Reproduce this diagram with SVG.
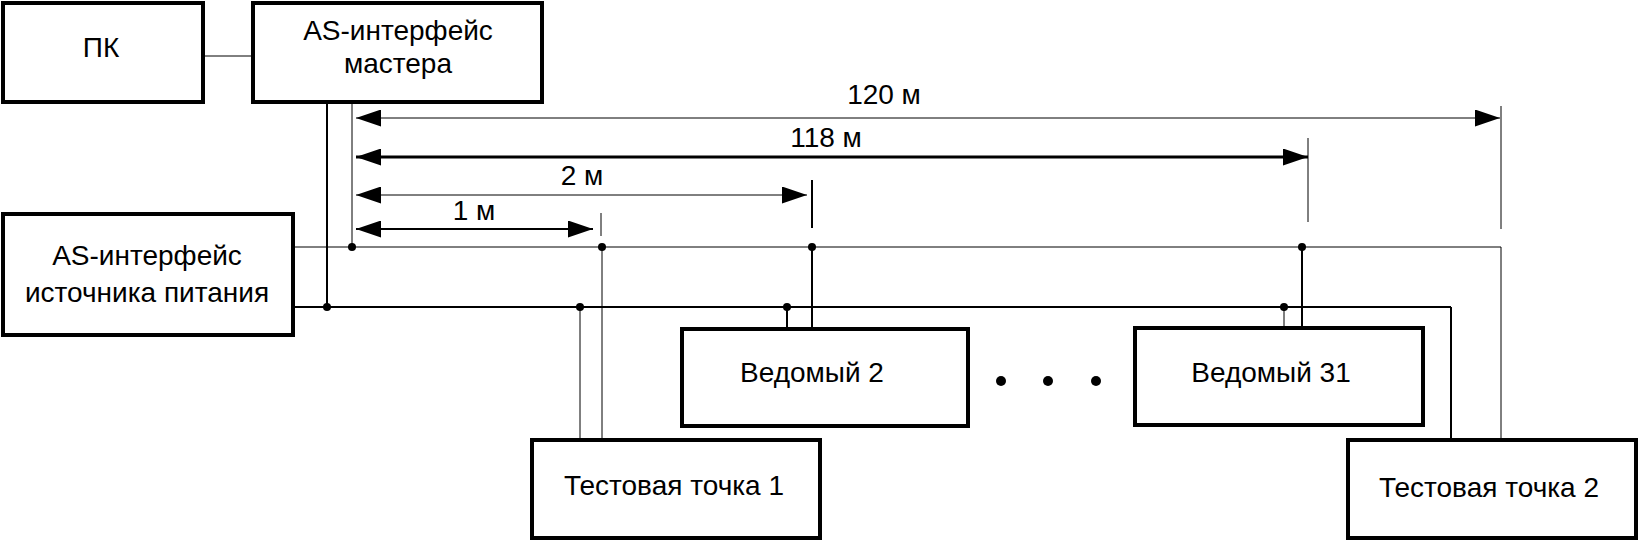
<svg xmlns="http://www.w3.org/2000/svg" width="1642" height="541" viewBox="0 0 1642 541">
<style>
.box{fill:#fff;stroke:#000;stroke-width:4}
.lbl{font-family:"Liberation Sans",Arial,sans-serif;font-size:28px;fill:#000;text-anchor:middle}
.w1{stroke:#000;stroke-width:1;fill:none}
.w2{stroke:#000;stroke-width:2;fill:none}
.w3{stroke:#000;stroke-width:3;fill:none}
.dot{fill:#000}
</style>
<defs>
<marker id="ah" markerUnits="userSpaceOnUse" markerWidth="25" markerHeight="17" refX="25" refY="8.5" orient="auto-start-reverse">
<path d="M0,0 L25,8.5 L0,17 z" fill="#000"/>
</marker>
</defs>
<rect width="1642" height="541" fill="#fff"/>
<g id="connectors">
<line class="w1" x1="203" y1="56" x2="253" y2="56"/>
<line class="w2" x1="327" y1="102" x2="327" y2="307"/>
<line class="w1" x1="352" y1="102" x2="352" y2="247"/>
<line class="w1" x1="293" y1="247" x2="1501" y2="247"/>
<line class="w2" x1="293" y1="307" x2="1451" y2="307"/>
<line class="w1" x1="602" y1="247" x2="602" y2="440"/>
<line class="w1" x1="580" y1="307" x2="580" y2="440"/>
<line class="w2" x1="812" y1="247" x2="812" y2="329"/>
<line class="w2" x1="787" y1="307" x2="787" y2="329"/>
<line class="w2" x1="1302" y1="247" x2="1302" y2="328"/>
<line class="w1" x1="1284" y1="307" x2="1284" y2="328"/>
<line class="w1" x1="1501" y1="247" x2="1501" y2="440"/>
<line class="w2" x1="1451" y1="307" x2="1451" y2="440"/>
<line class="w1" x1="601" y1="213" x2="601" y2="236"/>
<line class="w2" x1="812" y1="180" x2="812" y2="228"/>
<line class="w1" x1="1308" y1="138" x2="1308" y2="222"/>
<line class="w1" x1="1501" y1="106" x2="1501" y2="229"/>
<line class="w1" x1="356" y1="118" x2="1500" y2="118" marker-start="url(#ah)" marker-end="url(#ah)"/>
<line class="w3" x1="356" y1="157" x2="1308" y2="157" marker-start="url(#ah)" marker-end="url(#ah)"/>
<line class="w1" x1="356" y1="195" x2="807" y2="195" marker-start="url(#ah)" marker-end="url(#ah)"/>
<line class="w2" x1="356" y1="229" x2="593" y2="229" marker-start="url(#ah)" marker-end="url(#ah)"/>
<circle class="dot" cx="352" cy="247" r="4"/>
<circle class="dot" cx="602" cy="247" r="4"/>
<circle class="dot" cx="812" cy="247" r="4"/>
<circle class="dot" cx="1302" cy="247" r="4"/>
<circle class="dot" cx="327" cy="307" r="4"/>
<circle class="dot" cx="580" cy="307" r="4"/>
<circle class="dot" cx="787" cy="307" r="4"/>
<circle class="dot" cx="1284" cy="307" r="4"/>
<text class="lbl" x="884" y="104">120 м</text>
<text class="lbl" x="826" y="147">118 м</text>
<text class="lbl" x="582" y="185">2 м</text>
<text class="lbl" x="474" y="220">1 м</text>
</g>
<g id="pk">
<rect class="box" x="3" y="3" width="200" height="99"/>
<text class="lbl" x="101" y="57">ПК</text>
</g>
<g id="master">
<rect class="box" x="253" y="3" width="289" height="99"/>
<text class="lbl" x="398" y="40">AS-интерфейс</text>
<text class="lbl" x="398" y="73">мастера</text>
</g>
<g id="power">
<rect class="box" x="3" y="214" width="290" height="121"/>
<text class="lbl" x="147" y="265">AS-интерфейс</text>
<text class="lbl" x="147" y="302">источника питания</text>
</g>
<g id="slave2">
<rect class="box" x="682" y="329" width="286" height="97"/>
<text class="lbl" x="812" y="382">Ведомый 2</text>
</g>
<g id="ellipsis">
<circle class="dot" cx="1001" cy="381" r="5"/>
<circle class="dot" cx="1048" cy="381" r="5"/>
<circle class="dot" cx="1096" cy="381" r="5"/>
</g>
<g id="slave31">
<rect class="box" x="1135" y="328" width="288" height="97"/>
<text class="lbl" x="1271" y="382">Ведомый 31</text>
</g>
<g id="test1">
<rect class="box" x="532" y="440" width="288" height="98"/>
<text class="lbl" x="674" y="495">Тестовая точка 1</text>
</g>
<g id="test2">
<rect class="box" x="1348" y="440" width="288" height="98"/>
<text class="lbl" x="1489" y="497">Тестовая точка 2</text>
</g>
</svg>
